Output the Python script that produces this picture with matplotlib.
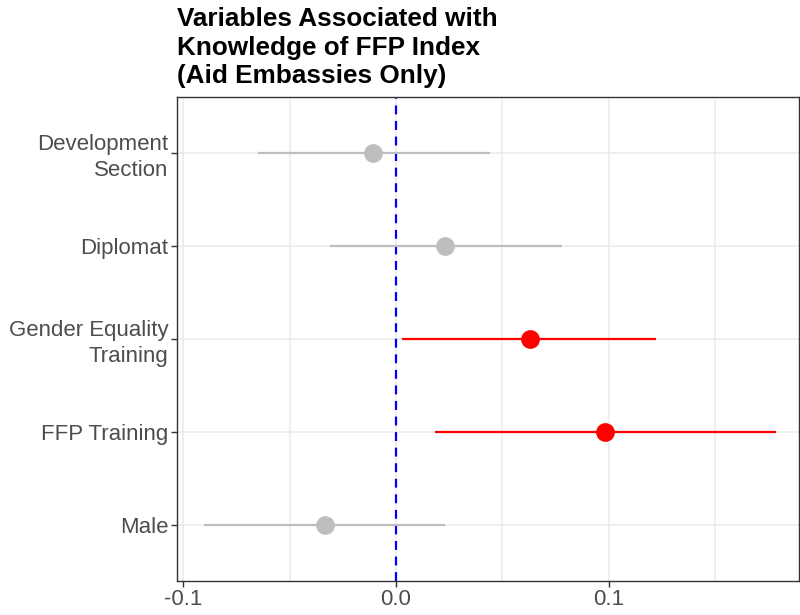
import matplotlib.pyplot as plt
from matplotlib.ticker import MultipleLocator

# coefficient estimates with 95% intervals, top to bottom as drawn
variables = ["Development\nSection", "Diplomat", "Gender Equality\nTraining", "FFP Training", "Male"]
estimates = [-0.0106, 0.0232, 0.0627, 0.0984, -0.0336]
ci_low = [-0.065, -0.031, 0.0026, 0.0185, -0.090]
ci_high = [0.044, 0.078, 0.1223, 0.1786, 0.0228]
significant = [False, False, True, True, False]

plt.rcParams['font.family'] = ['Liberation Sans', 'DejaVu Sans']

fig = plt.figure(figsize=(8, 6.15), dpi=100)
ax = fig.add_axes([0.221, 0.0553, 0.778, 0.787])

n = len(variables)
ypos = list(range(n, 0, -1))

for y, est, lo, hi, sig in zip(ypos, estimates, ci_low, ci_high, significant):
    col = "red" if sig else "#BEBEBE"
    ax.plot([lo, hi], [y, y], color=col, lw=1.6, solid_capstyle="butt", zorder=3)
    ax.plot(est, y, "o", color=col, ms=13.5, mec="none", zorder=4)

ax.axvline(0, color="blue", lw=1.6, ls=(0, (4, 3)), zorder=2)

ax.set_xlim(-0.103, 0.1894)
ax.set_ylim(0.4, 5.6)
ax.set_yticks(ypos)
ax.set_yticklabels(variables, ha="right", linespacing=1.3)
ax.xaxis.set_minor_locator(MultipleLocator(0.05))
ax.set_xticks([-0.1, 0.0, 0.1])
ax.set_xticklabels(["-0.1", "0.0", "0.1"])

ax.grid(True, which="major", color="#EBEBEB", lw=1.1, zorder=0)
ax.grid(True, which="minor", axis="x", color="#EBEBEB", lw=1.1, zorder=0)
ax.set_axisbelow(True)

ax.tick_params(axis="both", which="major", labelsize=16, labelcolor="#4D4D4D",
               color="#333333", length=4, width=1, pad=2)
ax.tick_params(axis="x", which="minor", length=0)
for s in ax.spines.values():
    s.set_color("#333333")
    s.set_linewidth(1.0)

fig.text(0.221, 0.988, "Variables Associated with\nKnowledge of FFP Index\n(Aid Embassies Only)",
         ha="left", va="top", fontsize=18.8, fontweight="bold", linespacing=1.22)

fig.savefig("out.png", dpi=100)
